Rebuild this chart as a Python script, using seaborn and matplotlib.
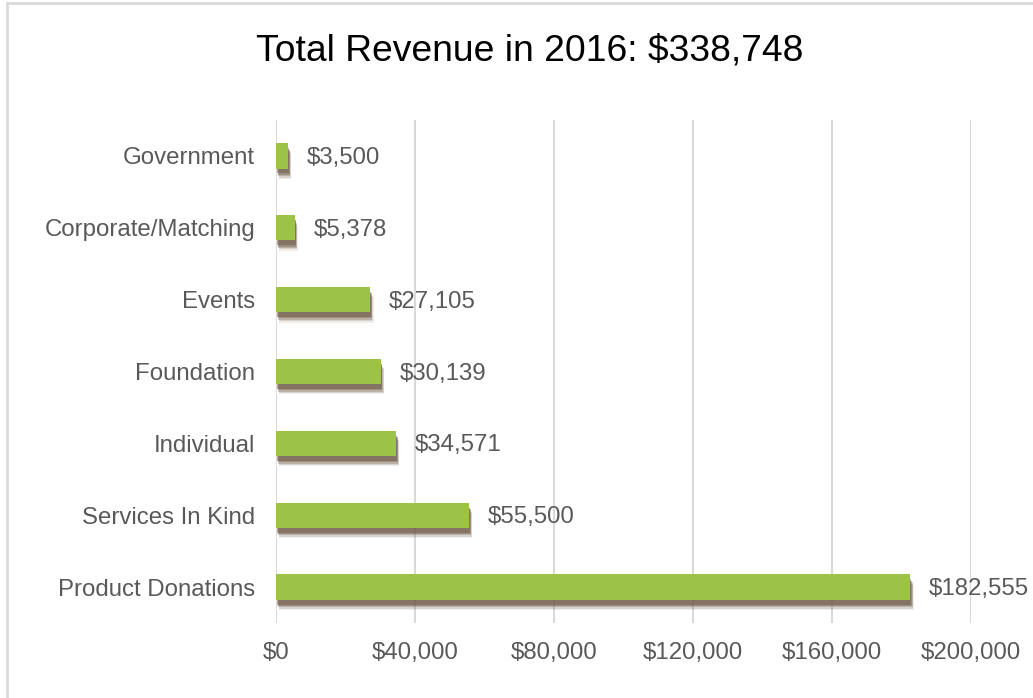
import matplotlib
matplotlib.use("Agg")
import matplotlib.pyplot as plt
import matplotlib.patheffects as pe
from matplotlib.patches import Rectangle
from matplotlib.ticker import FuncFormatter
import pandas as pd
import seaborn as sns

# ---------------------------------------------------------------------------
# DATA
# ---------------------------------------------------------------------------
categories = [
    "Government",
    "Corporate/Matching",
    "Events",
    "Foundation",
    "Individual",
    "Services In Kind",
    "Product Donations",
]
revenue = [3500, 5378, 27105, 30139, 34571, 55500, 182555]
x_ticks = [0, 40000, 80000, 120000, 160000, 200000]
title = "Total Revenue in 2016: $338,748"

BAR_COLOR = "#9CC348"
SHADOW_COLOR = "#6f5a48"
GRID_COLOR = "#d9d9d9"
TEXT_COLOR = "#595959"

sns.set_style("white")
plt.rcParams["font.family"] = ["Liberation Sans", "DejaVu Sans"]

df = pd.DataFrame({"category": categories, "revenue": revenue})

fig = plt.figure(figsize=(10.33, 6.98), dpi=100)
ax = fig.add_axes([276 / 1033, 1 - 623 / 698, (971 - 276) / 1033, (623 - 120) / 698])

sns.barplot(
    data=df, x="revenue", y="category", orient="h", color=BAR_COLOR,
    width=0.35, saturation=1, ax=ax, zorder=3,
)

# soft drop shadow under each bar (stacked layers fake a blur)
shadow = [
    pe.SimplePatchShadow(offset=(dx, -dy), shadow_rgbFace=SHADOW_COLOR, alpha=a)
    for dx, dy, a in [(2.4, 7.5, 0.1), (2.0, 6.5, 0.18), (1.6, 5.5, 0.28),
                      (1.2, 4.5, 0.4), (0.8, 3.5, 0.5)]
] + [pe.Normal()]
for bar in ax.patches:
    bar.set_path_effects(shadow)
    bar.set_edgecolor("none")

for val, cat_idx in zip(revenue, range(len(categories))):
    ax.annotate(
        f"${val:,}", xy=(val, cat_idx), xytext=(13.5, -1.5), textcoords="offset points",
        va="center", ha="left", fontsize=17.3, color=TEXT_COLOR,
    )

ax.set_xlim(0, 200000)
ax.set_ylim(len(categories) - 0.5, -0.5)
ax.set_xticks(x_ticks)
ax.xaxis.set_major_formatter(FuncFormatter(lambda v, _: f"${v:,.0f}"))
ax.grid(axis="x", color=GRID_COLOR, linewidth=1.5, zorder=0)
ax.set_axisbelow(True)
for side in ["top", "right", "bottom", "left"]:
    ax.spines[side].set_visible(False)
ax.tick_params(axis="x", length=0, pad=14, labelsize=17.3, labelcolor=TEXT_COLOR)
ax.tick_params(axis="y", length=0, pad=15, labelsize=17.3, labelcolor=TEXT_COLOR)
ax.set_xlabel("")
ax.set_ylabel("")

fig.text(530 / 1033, 1 - 51 / 698, title, ha="center", va="center",
         fontsize=26.8, color="black")

# thin frame around the chart area
fig.add_artist(Rectangle(
    (6.5 / 1033, -0.05), 1.1, 1.05 - 3.5 / 698, transform=fig.transFigure,
    fill=False, edgecolor=GRID_COLOR, linewidth=2,
))

fig.savefig("out.png", dpi=100)
